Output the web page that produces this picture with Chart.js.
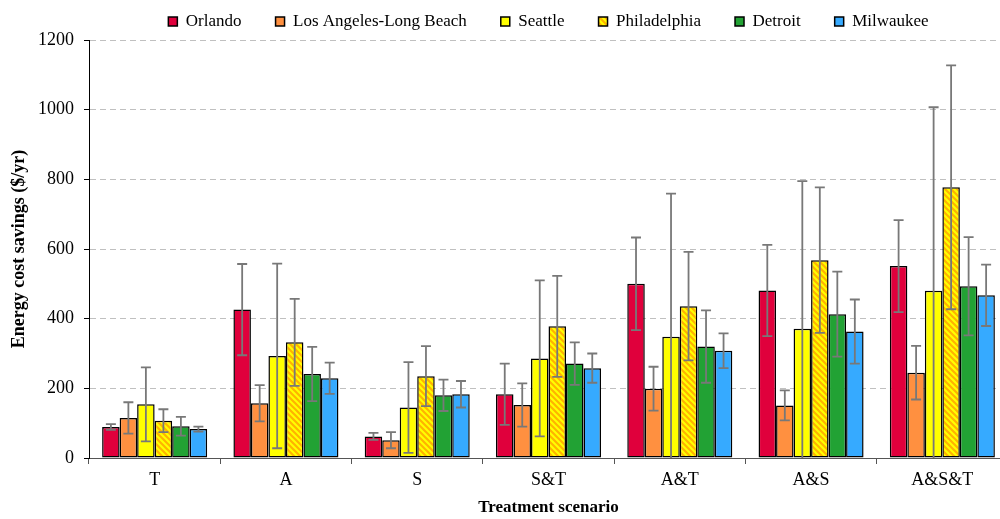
<!DOCTYPE html>
<html><head><meta charset="utf-8">
<script src="https://cdn.jsdelivr.net/npm/chart.js@4.4.1/dist/chart.umd.min.js"></script>
<style>html,body{margin:0;padding:0;overflow:hidden;background:#fff}#wrap{position:relative;width:1010px;height:519px}</style>
</head><body><div id="wrap"><canvas id="c"></canvas></div>
<script>
const categories = ['T', 'A', 'S', 'S&T', 'A&T', 'A&S', 'A&S&T'];
const cities = ['Orlando', 'Los Angeles-Long Beach', 'Seattle', 'Philadelphia', 'Detroit', 'Milwaukee'];
const orlando = [89, 426, 62, 183, 500, 481, 551];
const orlandoErr = [8, 131, 10, 88, 133, 131, 132];
const losAngeles = [115, 157, 51, 152, 199, 151, 245];
const losAngelesErr = [45, 52, 23, 62, 63, 43, 77];
const seattle = [154, 293, 145, 286, 348, 371, 480];
const seattleErr = [106, 265, 130, 224, 411, 424, 527];
const philadelphia = [107, 332, 235, 378, 436, 568, 777];
const philadelphiaErr = [33, 125, 86, 145, 156, 209, 350];
const detroit = [91, 241, 180, 271, 320, 413, 493];
const detroitErr = [27, 78, 45, 61, 104, 122, 141];
const milwaukee = [83, 229, 183, 258, 308, 363, 467];
const milwaukeeErr = [7, 45, 38, 42, 50, 92, 88];
const yMin = 0, yMax = 1200, yStep = 200;

function hatch() {
  const s = 6, c = document.createElement('canvas');
  c.width = s; c.height = s;
  const g = c.getContext('2d');
  g.fillStyle = '#FFFF00'; g.fillRect(0, 0, s, s);
  g.strokeStyle = '#FFB300'; g.lineWidth = 2.2;
  g.beginPath();
  g.moveTo(-1, -1); g.lineTo(s + 1, s + 1);
  g.moveTo(-1, s - 1); g.lineTo(1, s + 1);
  g.moveTo(s - 1, -1); g.lineTo(s + 1, 1);
  g.stroke();
  return g.createPattern(c, 'repeat');
}

const values = [orlando, losAngeles, seattle, philadelphia, detroit, milwaukee];
const errors = [orlandoErr, losAngelesErr, seattleErr, philadelphiaErr, detroitErr, milwaukeeErr];
const fills = ['#E0003C', '#FF9040', '#FFFF00', hatch(), '#22A234', '#36AAFF'];

const datasets = cities.map((name, i) => ({
  label: name,
  data: values[i],
  errors: errors[i],
  backgroundColor: fills[i],
  borderColor: '#000',
  borderWidth: 1.5,
  borderSkipped: false,
  categoryPercentage: 0.8,
  barPercentage: 1.0
}));

const errorBars = {
  id: 'errorBars',
  afterDatasetsDraw(chart) {
    const ctx = chart.ctx, ys = chart.scales.y, area = chart.chartArea;
    ctx.save();
    ctx.strokeStyle = '#787878';
    ctx.lineWidth = 1.8;
    chart.data.datasets.forEach((ds, i) => {
      const meta = chart.getDatasetMeta(i);
      meta.data.forEach((bar, j) => {
        const v = ds.data[j], e = ds.errors[j];
        let yt = ys.getPixelForValue(v + e), yb = ys.getPixelForValue(v - e);
        const topIn = yt >= area.top, botIn = yb <= area.bottom;
        yt = Math.max(yt, area.top); yb = Math.min(yb, area.bottom);
        const x = bar.x, w = 5;
        ctx.beginPath();
        ctx.moveTo(x, yt); ctx.lineTo(x, yb);
        if (topIn) { ctx.moveTo(x - w, yt); ctx.lineTo(x + w, yt); }
        if (botIn) { ctx.moveTo(x - w, yb); ctx.lineTo(x + w, yb); }
        ctx.stroke();
      });
    });
    ctx.restore();
  }
};

const serif = '"Liberation Serif", "Times New Roman", serif';

new Chart(document.getElementById('c'), {
  type: 'bar',
  data: { labels: categories, datasets },
  plugins: [errorBars],
  options: {
    responsive: true,
    maintainAspectRatio: false,
    animation: false,
    layout: { padding: { top: -21, right: 2, bottom: 0, left: 0 } },
    plugins: {
      tooltip: { enabled: false },
      legend: {
        position: 'top',
        fullSize: false,
        maxHeight: 67,
        labels: {
          color: '#000',
          boxWidth: 9,
          boxHeight: 9,
          padding: 34,
          font: { family: serif, size: 17 }
        }
      }
    },
    scales: {
      x: {
        afterFit(s) { s.height = 61; },
        grid: { display: true, drawOnChartArea: false, offset: true, tickLength: 6, color: '#555', lineWidth: 1 },
        border: { display: true, color: '#555', width: 1 },
        ticks: { color: '#000', padding: 5, font: { family: serif, size: 18 } },
        title: { display: true, text: 'Treatment scenario', color: '#000', padding: { top: 0, bottom: 1 }, font: { family: serif, size: 17, weight: 'bold' } }
      },
      y: {
        min: yMin, max: yMax,
        afterFit(s) { s.width = 89; },
        grid: { color: '#C0C0C0', lineWidth: 1, tickLength: 5, tickColor: '#000', tickBorderDash: [] },
        border: { display: true, color: '#000', width: 1, dash: [6, 4] },
        ticks: { stepSize: yStep, color: '#000', padding: 10, font: { family: serif, size: 18 }, callback: (v) => String(v) },
        title: { display: true, text: 'Energy cost savings ($/yr)', color: '#000', padding: { top: 9, bottom: 0 }, font: { family: serif, size: 18, weight: 'bold' } }
      }
    }
  }
});
</script>
</body></html>
